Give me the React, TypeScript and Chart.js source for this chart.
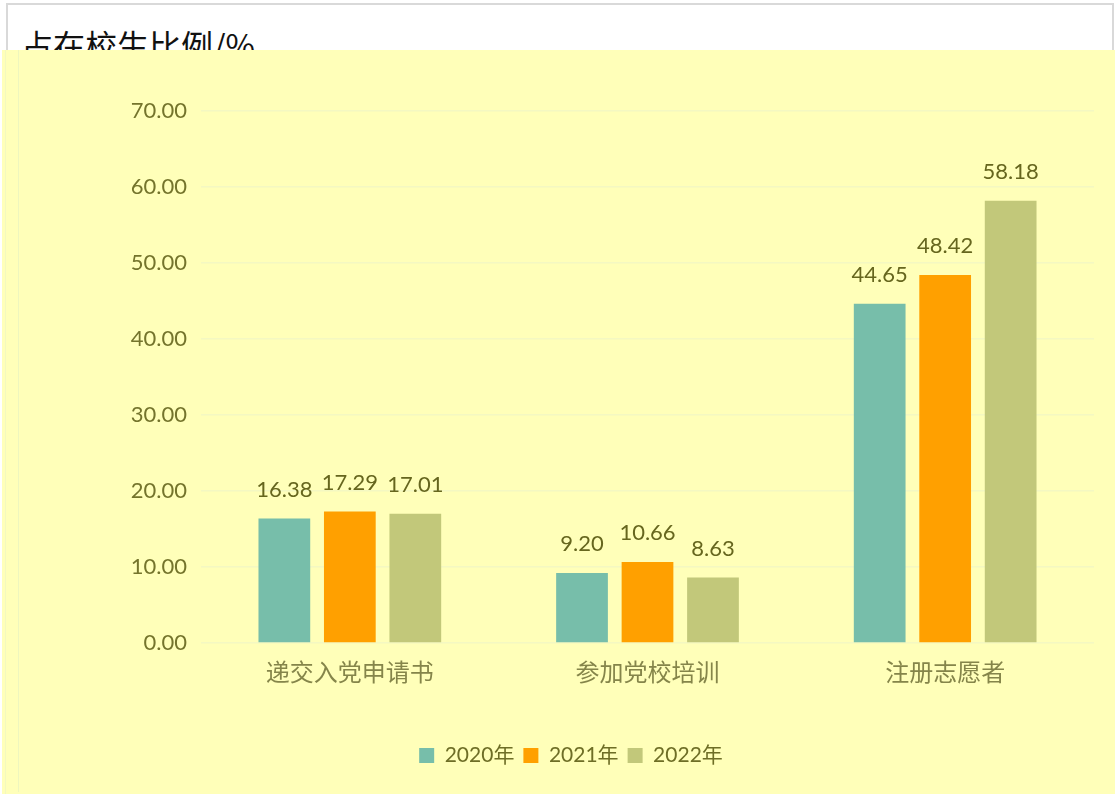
import React, { useEffect, useRef } from "react";
import { Chart, registerables } from "chart.js";

Chart.register(...registerables);

const categories = ["递交入党申请书", "参加党校培训", "注册志愿者"];
const seriesNames = ["2020年", "2021年", "2022年"];
const values2020 = [16.38, 9.2, 44.65];
const values2021 = [17.29, 10.66, 48.42];
const values2022 = [17.01, 8.63, 58.18];
const colors = ["#77BEAA", "#FFA000", "#C2C87A"];
const yTicks = [0, 10, 20, 30, 40, 50, 60, 70];
const titleText = "占在校生比例/%";

const FONT = "Lato, 'Noto Sans CJK SC', sans-serif";

const labelPlugin = {
  id: "barLabels",
  afterDatasetsDraw(chart: any) {
    const ctx = chart.ctx;
    ctx.save();
    ctx.font = `22px ${FONT}`;
    ctx.fillStyle = "#66661E";
    ctx.textAlign = "center";
    ctx.textBaseline = "bottom";
    chart.data.datasets.forEach((ds: any, i: number) => {
      const meta = chart.getDatasetMeta(i);
      meta.data.forEach((bar: any, j: number) => {
        ctx.fillText(ds.data[j].toFixed(2), bar.x, bar.y - 18);
      });
    });
    ctx.restore();
  },
};

export default function App() {
  const ref = useRef<HTMLCanvasElement>(null);
  useEffect(() => {
    const data = [values2020, values2021, values2022];
    const chart = new Chart(ref.current!, {
      type: "bar",
      data: {
        labels: categories,
        datasets: seriesNames.map((n, i) => ({
          label: n,
          data: data[i],
          backgroundColor: colors[i],
          borderWidth: 0,
          categoryPercentage: 0.66,
          barPercentage: 0.79,
        })),
      },
      options: {
        animation: false,
        responsive: false,
        maintainAspectRatio: false,
        layout: { padding: { left: 46, right: 21, top: 61, bottom: 18 } },
        plugins: {
          legend: {
            position: "bottom",
            labels: {
              boxWidth: 15,
              boxHeight: 15,
              padding: 9,
              color: "#6E6E26",
              font: { family: FONT, size: 21 },
            },
          },
          tooltip: { enabled: false },
        },
        scales: {
          x: {
            grid: { display: false },
            border: { display: false },
            ticks: {
              color: "#85854A",
              padding: 8,
              font: { family: FONT, size: 24 },
            },
            afterFit(scale: any) {
              scale.height = 93;
            },
          },
          y: {
            min: 0,
            max: 70,
            afterBuildTicks(scale: any) {
              scale.ticks = yTicks.map((v) => ({ value: v }));
            },
            grid: { color: "#F4F8C2", drawTicks: false, lineWidth: 1.5 },
            border: { display: false },
            ticks: {
              color: "#74742C",
              padding: 14,
              font: { family: FONT, size: 22 },
              callback: (v: any) => Number(v).toFixed(2),
            },
            afterFit(scale: any) {
              scale.width = 153;
            },
          },
        },
      },
      plugins: [labelPlugin],
    });
    return () => chart.destroy();
  }, []);

  return (
    <div
      style={{
        position: "absolute",
        left: 0,
        top: 0,
        width: 1115,
        height: 794,
        background: "#FFFFFF",
        overflow: "hidden",
      }}
    >
      <div
        style={{
          position: "absolute",
          left: 6,
          top: 3,
          width: 1104,
          height: 780,
          border: "2px solid #D9D9D9",
        }}
      />
      <div
        style={{
          position: "absolute",
          left: 21,
          top: 24,
          fontFamily: "'Noto Sans CJK SC', sans-serif",
          fontSize: 32,
          lineHeight: "40px",
          color: "#111",
          whiteSpace: "nowrap",
        }}
      >
        {titleText}
      </div>
      <div
        style={{
          position: "absolute",
          left: 2,
          top: 50,
          width: 1113,
          height: 744,
          background: "#FFFFB9",
        }}
      >
        <div
          style={{
            position: "absolute",
            left: 3,
            top: 0,
            width: 1,
            height: 744,
            background: "#F3F8C0",
          }}
        />
        <div
          style={{
            position: "absolute",
            left: 16,
            top: 0,
            width: 1,
            height: 742,
            background: "#EEF6BE",
          }}
        />
        <canvas
          ref={ref}
          width={1113}
          height={744}
          style={{ position: "absolute", left: 0, top: 0 }}
        />
      </div>
    </div>
  );
}
